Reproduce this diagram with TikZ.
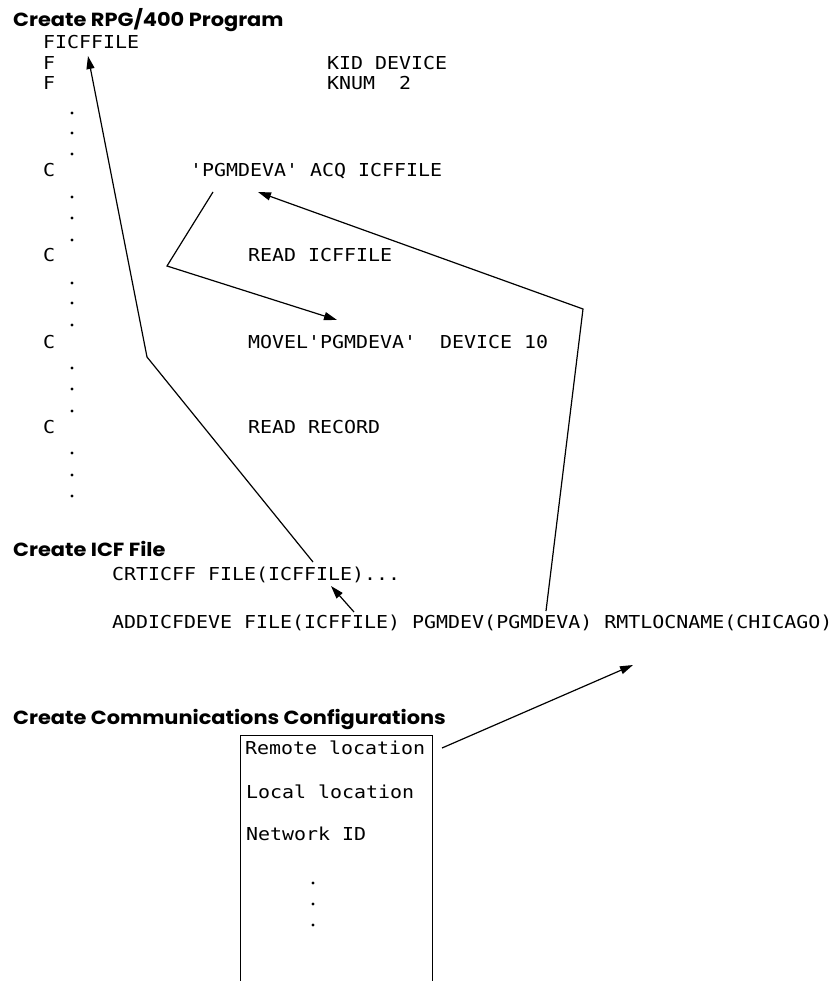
\documentclass[tikz,border=0pt]{standalone}
\usepackage{fontspec}
\usepackage{tikz}
\usetikzlibrary{arrows.meta}
\newfontfamily\codefont{DejaVu Sans Mono}[FakeStretch=1.12]
\newfontfamily\headfont{Poppins}[FakeStretch=1.1]

\begin{document}
\begin{tikzpicture}[x=1pt, y=-1pt,
    codetxt/.style={anchor=base west, inner sep=0pt, font=\codefont\fontsize{17.8}{20}\selectfont},
    headtxt/.style={anchor=base west, inner sep=0pt, font=\headfont\bfseries\fontsize{19}{22}\selectfont},
    link/.style={line width=1.2pt},
    >={Triangle[length=13pt, width=8pt]}]

    \useasboundingbox (0,0) rectangle (839,981);

    % ==========================================
    % RPG/400 PROGRAM
    % ==========================================
    \node[headtxt] (rpghead) at (13,27) {Create RPG/400 Program};
    \node[codetxt] (ficf) at (43,48.5) {FICFFILE};
    \node[codetxt] (fone) at (43,69.5) {F};
    \node[codetxt] (ftwo) at (43,89.5) {F};
    \node[codetxt] (kid) at (327,69.5) {KID DEVICE};
    \node[codetxt] (knum) at (327,89.5) {KNUM~~2};

    % C lines
    \foreach \y [count=\i] in {176.5,261.5,348.5,433.5}
        \node[codetxt] (c\i) at (43,\y) {C};

    % dotted continuation column
    \foreach \y in {113,133,154,197,218,240,283,303,325,368,389,411,453,475,496}
        \fill (72,\y) circle (1.6pt);

    \node[codetxt] (acq) at (190,176.5) {'PGMDEVA' ACQ ICFFILE};
    \node[codetxt] (readicf) at (248,261.5) {READ ICFFILE};
    \node[codetxt] (movel) at (248,348.5) {MOVEL'PGMDEVA'~~DEVICE 10};
    \node[codetxt] (readrec) at (248,433.5) {READ RECORD};

    % ==========================================
    % ICF FILE
    % ==========================================
    \node[headtxt] (icfhead) at (13,556) {Create ICF File};
    \node[codetxt] (crt) at (112,580.5) {CRTICFF FILE(ICFFILE)...};
    \node[codetxt] (add) at (112,628.5) {ADDICFDEVE FILE(ICFFILE) PGMDEV(PGMDEVA) RMTLOCNAME(CHICAGO)};

    % ==========================================
    % COMMUNICATIONS CONFIGURATIONS
    % ==========================================
    \node[headtxt] (comhead) at (13,724) {Create Communications Configurations};
    \draw[line width=1pt] (240,981) -- (240,735) -- (432,735) -- (432,981);
    \node[codetxt] (remote) at (245,754.5) {Remote location};
    \node[codetxt] (local) at (246,798.5) {Local location};
    \node[codetxt] (netid) at (246,840.5) {Network ID};
    \foreach \y in {883,904,925}
        \fill (313,\y) circle (1.6pt);

    % ==========================================
    % CONNECTORS
    % ==========================================
    \coordinate (crtfoot) at (313,562);
    \coordinate (crtbend) at (147,357);
    \coordinate (ficftip) at (88,56);
    \coordinate (acqfoot) at (213,192);
    \coordinate (acqbend) at (167,266);
    \coordinate (moveltip) at (337,320);
    \coordinate (pgmfoot) at (546,611);
    \coordinate (pgmbend) at (583,309);
    \coordinate (acqtip) at (258,192);
    \coordinate (addfoot) at (354,612);
    \coordinate (crttip) at (331,586);
    \coordinate (remotefoot) at (442,748);
    \coordinate (rmttip) at (633,665);

    \draw[link, ->] (crtfoot) -- (crtbend) -- (ficftip);
    \draw[link, ->] (acqfoot) -- (acqbend) -- (moveltip);
    \draw[link, ->] (pgmfoot) -- (pgmbend) -- (acqtip);
    \draw[link, ->] (addfoot) -- (crttip);
    \draw[link, ->] (remotefoot) -- (rmttip);

\end{tikzpicture}
\end{document}
